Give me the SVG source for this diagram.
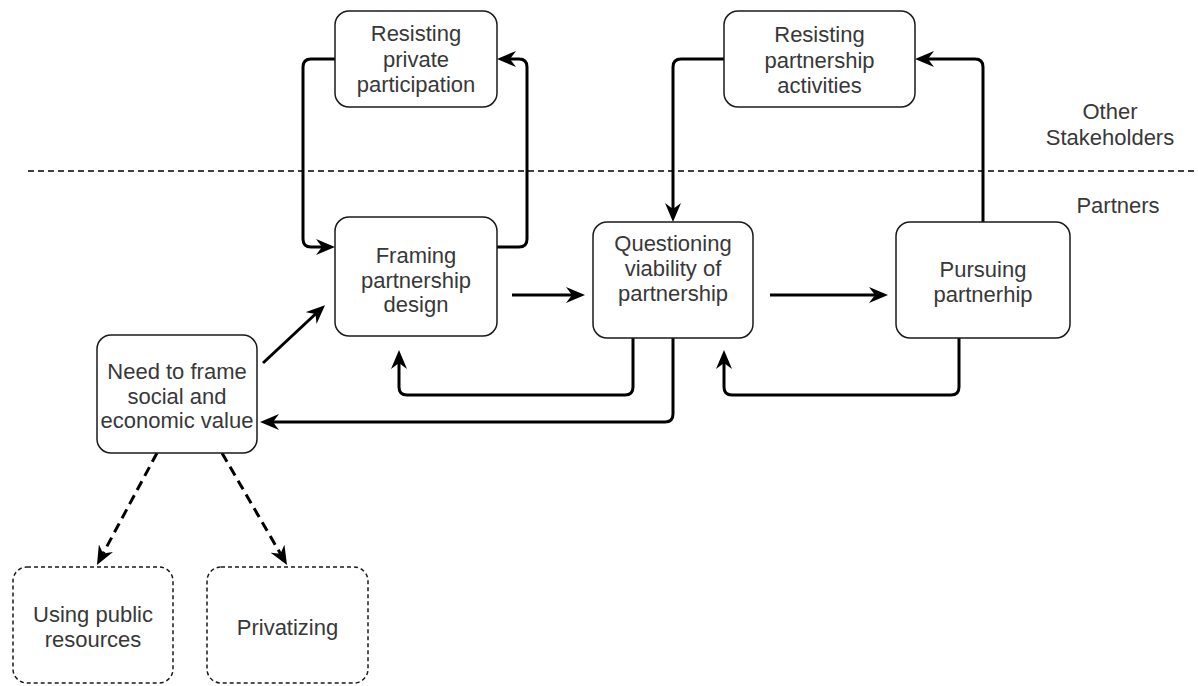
<svg xmlns="http://www.w3.org/2000/svg" width="1198" height="686" viewBox="0 0 1198 686">
<defs>
<style>
.box{fill:#fff;stroke:#1a1a1a;stroke-width:1.5}
.dbox{fill:#fff;stroke:#1a1a1a;stroke-width:1.5;stroke-dasharray:4 3}
.t{font-family:"Liberation Sans",Arial,sans-serif;font-size:22px;fill:#383838;text-anchor:middle}
.c{fill:none;stroke:#000;stroke-width:3;marker-end:url(#ah)}
.dc{fill:none;stroke:#000;stroke-width:3;stroke-dasharray:10 6;marker-end:url(#ah)}
</style>
<marker id="ah" viewBox="0 0 19 16" refX="6" refY="8" markerWidth="19" markerHeight="16" markerUnits="userSpaceOnUse" orient="auto">
<path d="M0,0 L19,8 L0,16 L6,8 Z" fill="#000"/>
</marker>
</defs>
<rect width="1198" height="686" fill="#fff"/>
<line x1="28" y1="171" x2="1198" y2="171" stroke="#000" stroke-width="1.5" stroke-dasharray="6 4"/>
<text class="t" x="1110" y="119">Other</text>
<text class="t" x="1110" y="145">Stakeholders</text>
<text class="t" x="1118" y="213">Partners</text>
<g id="connectors">
<path class="c" d="M335,59 H311 Q303,59 303,67 V239 Q303,247 311,247 H322"/>
<path class="c" d="M497,247 H519 Q527,247 527,239 V67 Q527,59 519,59 H510"/>
<path class="c" d="M724,59 H681 Q673,59 673,67 V209"/>
<path class="c" d="M983,222 V67 Q983,59 975,59 H928"/>
<path class="c" d="M512,295 H572"/>
<path class="c" d="M770,295 H875"/>
<path class="c" d="M959,338 V387 Q959,395 951,395 H732 Q724,395 724,387 V363"/>
<path class="c" d="M633,338 V387 Q633,395 625,395 H407 Q399,395 399,387 V363"/>
<path class="c" d="M673,338 V414 Q673,422 665,422 H273"/>
<path class="c" d="M263,363 L315.5,314"/>
<path class="dc" d="M157,453 L103.1,553.5"/>
<path class="dc" d="M222,453 L280.5,553.8"/>
</g>
<g id="resisting-private">
<rect class="box" x="335" y="11" width="162" height="96" rx="14"/>
<text class="t" x="416" y="41">Resisting</text>
<text class="t" x="416" y="67">private</text>
<text class="t" x="416" y="92">participation</text>
</g>
<g id="resisting-partnership">
<rect class="box" x="724" y="11" width="191" height="96" rx="14"/>
<text class="t" x="819.5" y="42">Resisting</text>
<text class="t" x="819.5" y="68">partnership</text>
<text class="t" x="819.5" y="93">activities</text>
</g>
<g id="framing">
<rect class="box" x="335" y="217" width="162" height="119" rx="14"/>
<text class="t" x="416" y="263">Framing</text>
<text class="t" x="416" y="288">partnership</text>
<text class="t" x="416" y="312">design</text>
</g>
<g id="questioning">
<rect class="box" x="593" y="222" width="160" height="116" rx="14"/>
<text class="t" x="673" y="251">Questioning</text>
<text class="t" x="673" y="276">viability of</text>
<text class="t" x="673" y="301">partnership</text>
</g>
<g id="pursuing">
<rect class="box" x="896" y="222" width="174" height="116" rx="14"/>
<text class="t" x="983" y="277">Pursuing</text>
<text class="t" x="983" y="302">partnerhip</text>
</g>
<g id="need">
<rect class="box" x="97" y="335" width="160" height="118" rx="14"/>
<text class="t" x="177" y="379">Need to frame</text>
<text class="t" x="177" y="404">social and</text>
<text class="t" x="177" y="428">economic value</text>
</g>
<g id="public-resources">
<rect class="dbox" x="13" y="567" width="160" height="116" rx="14"/>
<text class="t" x="93" y="622">Using public</text>
<text class="t" x="93" y="647">resources</text>
</g>
<g id="privatizing">
<rect class="dbox" x="207" y="567" width="161" height="116" rx="14"/>
<text class="t" x="287.5" y="635">Privatizing</text>
</g>
</svg>
